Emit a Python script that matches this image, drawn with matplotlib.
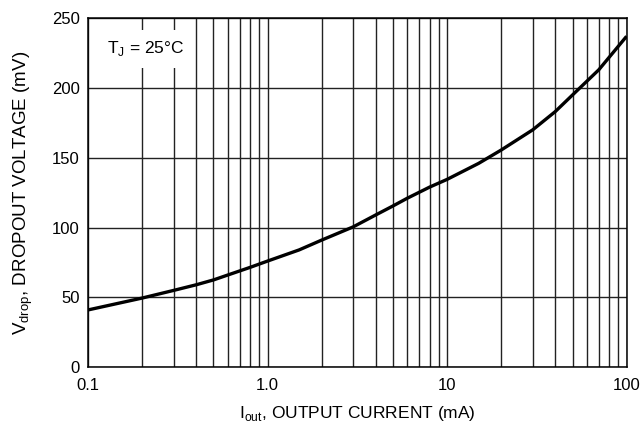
import matplotlib
matplotlib.use("Agg")
import matplotlib.pyplot as plt
from matplotlib.ticker import FixedLocator, NullFormatter, LogLocator

plt.rcParams['font.family'] = ['Liberation Sans Narrow', 'Liberation Sans', 'DejaVu Sans']

# data
i_out = [0.1, 0.2, 0.3, 0.4, 0.5, 0.6, 0.8, 1.0, 1.5, 2.0, 3.0, 4.0, 5.0, 6.0, 8.0,
         10, 15, 20, 30, 40, 50, 70, 100]
v_drop = [41, 49.5, 55, 59, 62.5, 66, 71.5, 76, 84, 91, 100.5, 109, 115.5, 121, 129,
          134.5, 146, 155.5, 170, 183, 195, 213, 237]

x_ticks = [0.1, 1.0, 10, 100]
x_labels = ["0.1", "1.0", "10", "100"]
y_ticks = [0, 50, 100, 150, 200, 250]

fig = plt.figure(figsize=(6.42, 4.32), dpi=100)
ax = fig.add_axes([0.137, 0.150, 0.839, 0.808])

ax.set_xscale("log")
ax.set_xlim(0.1, 100)
ax.set_ylim(0, 250)

ax.xaxis.set_major_locator(FixedLocator(x_ticks))
ax.set_xticklabels(x_labels)
ax.xaxis.set_minor_locator(LogLocator(base=10, subs=range(2, 10)))
ax.xaxis.set_minor_formatter(NullFormatter())
ax.set_yticks(y_ticks)

ax.grid(True, which="both", axis="x", color="#222222", linewidth=1.0)
ax.grid(True, which="major", axis="y", color="#222222", linewidth=1.0)
ax.tick_params(which="both", length=0, labelsize=12)
ax.tick_params(axis="x", pad=8)
ax.tick_params(axis="y", pad=6)
for s in ax.spines.values():
    s.set_linewidth(1.1)

ax.plot(i_out, v_drop, color="black", linewidth=2.4, solid_capstyle="butt",
        solid_joinstyle="round")

ax.text(0.128, 228, r"T$_{\mathregular{J}}$ = 25°C", fontsize=12.5, va="center", ha="left",
        bbox=dict(facecolor="white", edgecolor="none", pad=7))

ax.set_xlabel(r"I$_{\mathregular{out}}$, OUTPUT CURRENT (mA)", fontsize=12.5, labelpad=8)
ax.set_ylabel(r"V$_{\mathregular{drop}}$, DROPOUT VOLTAGE (mV)", fontsize=13.5, labelpad=12)

fig.savefig("out.png", dpi=100)
